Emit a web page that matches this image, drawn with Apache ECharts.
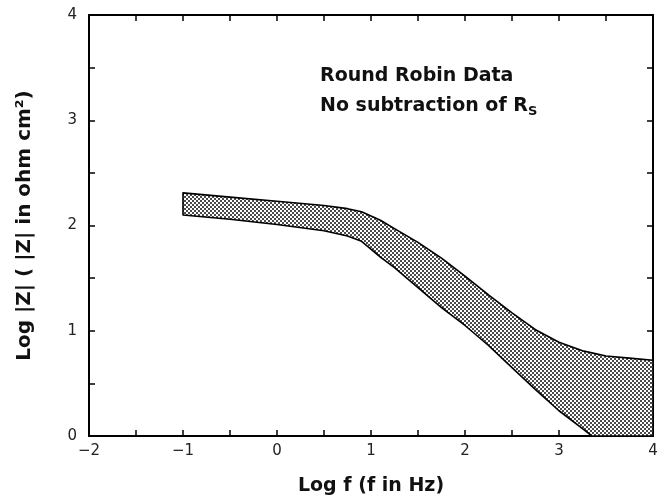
<!DOCTYPE html>
<html>
<head>
<meta charset="utf-8">
<script src="https://cdn.jsdelivr.net/npm/echarts@6/dist/echarts.min.js"></script>
<style>
  html, body { margin: 0; padding: 0; background: #fff; }
  #chart { width: 665px; height: 501px; }
</style>
</head>
<body>
<div id="chart"></div>
<script>
  // log f positions shared by both edges of the band
  const logF = [-1, -0.5, 0, 0.5, 0.75, 0.9, 1.1, 1.25, 1.5, 1.75, 2, 2.25, 2.5, 2.75, 3, 3.25, 3.35, 3.5, 3.75, 4]
  // upper and lower edge of the round robin envelope, log |Z|
  const upperZ = [2.31, 2.27, 2.23, 2.19, 2.16, 2.13, 2.05, 1.97, 1.84, 1.69, 1.52, 1.34, 1.17, 1.01, 0.89, 0.81, 0.79, 0.76, 0.74, 0.72]
  const lowerZ = [2.10, 2.06, 2.01, 1.95, 1.90, 1.85, 1.70, 1.60, 1.41, 1.22, 1.05, 0.86, 0.65, 0.44, 0.24, 0.07, 0.00, 0.00, 0.00, 0.00]
  const xTicks = [-2, -1, 0, 1, 2, 3, 4]
  const yTicks = [0, 1, 2, 3, 4]

  const font = 'DejaVu Sans'

  // dotted fill like the printed screen
  function dotPattern() {
    const c = document.createElement('canvas')
    c.width = 4
    c.height = 4
    const ctx = c.getContext('2d')
    ctx.fillStyle = '#ffffff'
    ctx.fillRect(0, 0, 4, 4)
    ctx.fillStyle = '#4a4a4a'
    ctx.fillRect(0, 0, 2, 2)
    ctx.fillRect(2, 2, 2, 2)
    return c
  }

  const minus = v => String(v).replace('-', '\u2212')

  const tickOpts = { show: true, inside: true, length: 6, lineStyle: { color: '#000', width: 1.5 } }
  const lineOpts = { show: true, onZero: false, lineStyle: { color: '#000', width: 2 } }

  const chart = echarts.init(document.getElementById('chart'))
  chart.setOption({
    animation: false,
    grid: { left: 89, right: 12, top: 15, bottom: 65 },
    xAxis: [
      {
        type: 'value', position: 'bottom', min: -2, max: 4, interval: 0.5,
        axisLine: lineOpts, axisTick: tickOpts, splitLine: { show: false },
        axisLabel: {
          margin: 8, color: '#222', fontFamily: font, fontSize: 15,
          formatter: v => xTicks.includes(v) ? minus(v) : ''
        },
        name: 'Log f (f in Hz)', nameLocation: 'middle', nameGap: 41,
        nameTextStyle: { color: '#111', fontFamily: font, fontSize: 19, fontWeight: 'bold' }
      },
      {
        type: 'value', position: 'top', min: -2, max: 4, interval: 0.5,
        axisLine: lineOpts, axisTick: tickOpts, splitLine: { show: false },
        axisLabel: { show: false }
      }
    ],
    yAxis: [
      {
        type: 'value', position: 'left', min: 0, max: 4, interval: 0.5,
        axisLine: lineOpts, axisTick: tickOpts, splitLine: { show: false },
        axisLabel: {
          margin: 12, color: '#222', fontFamily: font, fontSize: 15,
          formatter: v => yTicks.includes(v) ? String(v) : ''
        },
        name: 'Log |Z| ( |Z| in ohm cm\u00b2)', nameLocation: 'middle', nameRotate: 90, nameGap: 54,
        nameTextStyle: { color: '#111', fontFamily: font, fontSize: 20, fontWeight: 'bold' }
      },
      {
        type: 'value', position: 'right', min: 0, max: 4, interval: 0.5,
        axisLine: lineOpts, axisTick: tickOpts, splitLine: { show: false },
        axisLabel: { show: false }
      }
    ],
    graphic: [
      {
        type: 'text', left: 320, top: 61,
        style: {
          text: 'Round Robin Data\nNo subtraction of R{s|S}',
          fontFamily: font, fontSize: 19, fontWeight: 'bold', fill: '#111', lineHeight: 30,
          rich: {
            s: { fontFamily: font, fontSize: 13, fontWeight: 'bold', lineHeight: 13, verticalAlign: 'bottom', padding: [0, 0, 3, 0] }
          }
        }
      }
    ],
    series: [
      {
        type: 'custom',
        xAxisIndex: 0,
        yAxisIndex: 0,
        data: [[0]],
        clip: true,
        renderItem: (params, api) => {
          const pts = []
          logF.forEach((x, i) => pts.push(api.coord([x, upperZ[i]])))
          for (let i = logF.length - 1; i >= 0; i--) pts.push(api.coord([logF[i], lowerZ[i]]))
          return {
            type: 'polygon',
            shape: { points: pts },
            style: {
              fill: { image: dotPattern(), repeat: 'repeat' },
              stroke: '#000',
              lineWidth: 1.6,
              lineJoin: 'round'
            }
          }
        }
      }
    ]
  })
</script>
</body>
</html>
